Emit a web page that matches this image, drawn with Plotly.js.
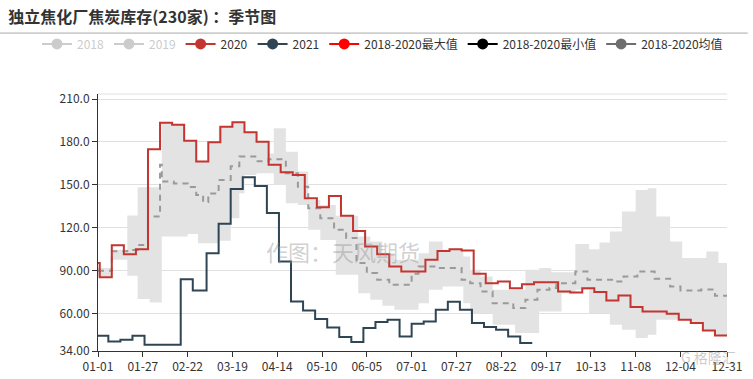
<!DOCTYPE html>
<html>
<head>
<meta charset="utf-8">
<script src="https://cdn.plot.ly/plotly-3.0.1.min.js"></script>
<style>
html,body{margin:0;padding:0;background:#fff;}
#chart{width:753px;height:379px;}
</style>
</head>
<body>
<div id="chart"></div>
<script>
// ---- data (MM-DD on a 2020 calendar axis) ----
const xTickDates = ['01-01','01-27','02-22','03-19','04-14','05-10','06-05','07-01','07-27','08-22','09-17','10-13','11-08','12-04','12-31'];
const yTickVals = [34, 60, 90, 120, 150, 180, 210];
const yTickText = ['34.00', '60.00', '90.00', '120.0', '150.0', '180.0', '210.0'];

const dates2020 = ['01-01','01-02','01-09','01-16','01-23','01-30','02-06','02-13','02-20','02-27','03-05','03-12','03-19','03-26','04-02','04-09','04-16','04-23','04-30','05-07','05-14','05-21','05-28','06-04','06-11','06-18','06-25','07-02','07-09','07-16','07-23','07-30','08-06','08-13','08-20','08-27','09-03','09-10','09-17','09-24','10-01','10-08','10-15','10-22','10-29','11-05','11-12','11-19','11-26','12-03','12-10','12-17','12-24','12-31'];
const values2020 = [95.4,85.5,107.8,101.6,105.0,174.9,193.5,192.1,180.9,166.3,179.8,190.7,193.7,186.8,180.2,164.0,158.9,157.0,140.7,134.4,142.3,128.4,117.9,107.0,101.6,93.0,89.5,89.5,97.7,103.9,105.1,104.2,88.0,81.4,82.5,77.9,80.6,82.1,82.1,75.6,74.9,77.9,75.2,69.3,72.8,64.7,61.6,61.6,60.0,55.8,53.5,48.3,44.9,44.9];

const dates2021 = ['01-01','01-07','01-14','01-21','01-28','02-04','02-11','02-18','02-25','03-04','03-11','03-18','03-25','04-01','04-08','04-15','04-22','04-29','05-06','05-13','05-20','05-27','06-03','06-10','06-17','06-24','07-01','07-08','07-15','07-22','07-29','08-05','08-12','08-19','08-26','09-02','09-09'];
const values2021 = [44.6,40.7,41.9,44.6,38.4,38.4,38.4,84.2,76.3,102.3,122.8,147.2,155.4,149.3,130.3,96.5,68.6,62.3,56.3,50.4,43.7,40.2,50.0,54.2,55.8,44.2,53.0,54.6,62.8,68.4,62.8,53.5,50.7,48.8,44.2,39.6,39.6];

const bandDates = ['01-01','01-09','01-18','01-24','01-31','02-07','02-13','02-20','02-22','02-27','02-28','03-05','03-11','03-18','03-23','03-26','04-02','04-09','04-12','04-19','04-26','05-02','05-09','05-18','05-31','06-07','06-14','06-21','07-05','07-11','07-19','07-31','08-04','08-10','08-17','08-30','09-05','09-13','09-20','09-26','10-04','10-12','10-18','10-24','10-31','11-08','11-15','11-20','11-28','12-03','12-05','12-10','12-17','12-19','12-24','12-26','12-31'];
const bandMax = [91.9,104.7,128.6,148.4,148.4,193.5,192.1,180.9,180.9,166.3,166.3,179.8,190.7,193.7,193.7,186.8,180.2,172.0,189.6,173.2,159.3,139.5,136.0,128.4,114.0,110.5,102.3,97.7,102.3,110.5,104.7,100.0,90.7,86.0,76.7,76.7,90.7,91.9,89.0,89.0,108.8,105.1,109.7,117.4,131.4,146.5,147.7,127.9,110.5,110.5,98.9,98.9,98.9,103.5,103.5,95.4,95.4];
const bandMin = [86.0,97.7,86.5,70.3,67.9,114.0,114.0,114.0,115.8,115.8,109.3,109.3,111.0,126.8,144.2,157.0,158.2,158.2,150.0,137.2,136.0,118.6,111.6,87.2,74.4,69.8,65.6,62.8,67.4,76.7,79.0,67.4,60.5,60.5,52.3,46.6,46.6,61.6,61.6,74.4,76.7,60.5,60.5,52.3,48.8,43.1,45.3,55.8,55.8,55.8,55.8,53.5,48.3,48.3,44.9,44.9,44.9];

const meanDates = ['01-01','01-09','01-18','01-24','01-30','02-06','02-07','02-14','02-22','02-27','03-02','03-05','03-11','03-18','03-23','04-02','04-09','04-19','04-26','05-02','05-09','05-17','05-24','05-30','06-05','06-11','06-18','07-01','07-05','07-16','07-30','08-04','08-10','08-17','08-29','09-05','09-12','09-19','09-23','10-04','10-11','10-26','11-01','11-09','11-19','11-28','12-04','12-16','12-24','12-31'];
const meanValues = [90.0,103.7,104.5,108.0,128.0,164.0,152.3,151.0,148.5,143.0,138.0,144.0,153.5,163.0,169.8,166.5,168.0,158.2,148.8,133.7,126.8,118.6,113.0,95.4,88.4,83.7,80.2,88.0,93.0,91.9,83.7,81.4,75.6,67.4,64.0,69.8,76.7,78.0,81.4,89.5,83.7,82.5,86.0,89.5,84.5,79.0,76.3,77.0,72.6,72.6];

const legendNames = ['2018','2019','2020','2021','2018-2020最大值','2018-2020最小值','2018-2020均值'];
const legendColors = ['#cccccc','#cccccc','#c23531','#2f4554','#ff0000','#000000','#6e6e6e'];

// ---- build ----
const YEAR = '2020-';
const toX = arr => arr.map(d => YEAR + d);
const FONT = '"Noto Sans CJK SC", "Noto Sans", sans-serif';

const traces = [
  {x: toX(bandDates), y: bandMin, mode: 'lines', line: {width: 0, shape: 'hv', color: '#e3e3e3'}, showlegend: false, hoverinfo: 'skip'},
  {x: toX(bandDates), y: bandMax, mode: 'lines', line: {width: 0, shape: 'hv', color: '#e3e3e3'}, fill: 'tonexty', fillcolor: '#e3e3e3', showlegend: false, hoverinfo: 'skip'},
  {x: toX(meanDates), y: meanValues, mode: 'lines', line: {width: 2, shape: 'hv', color: '#9a9a9a', dash: '6px,5px'}, showlegend: false},
  {x: toX(dates2020), y: values2020, mode: 'lines', line: {width: 2, shape: 'hv', color: '#c23531'}, showlegend: false},
  {x: toX(dates2021), y: values2021, mode: 'lines', line: {width: 2, shape: 'hv', color: '#2f4554'}, showlegend: false}
];
legendNames.forEach((n, i) => {
  const grey = i < 2;
  traces.push({
    x: [null], y: [null], mode: 'lines+markers',
    name: grey ? '<span style="color:#cccccc">' + n + '</span>' : n,
    line: {color: legendColors[i], width: 2},
    marker: {color: legendColors[i], size: 11},
    showlegend: true
  });
});

const layout = {
  width: 753, height: 379,
  margin: {l: 98, r: 26, t: 94, b: 28},
  paper_bgcolor: '#ffffff', plot_bgcolor: '#ffffff',
  font: {family: FONT, size: 12, color: '#333333'},
  hovermode: false,
  title: {
    text: '<b>独立焦化厂焦炭库存(230家) ：季节图</b>',
    font: {family: FONT, size: 16, color: '#333333'},
    xref: 'container', yref: 'container',
    x: 0.011, xanchor: 'left', y: 0.955, yanchor: 'middle'
  },
  legend: {
    orientation: 'h', traceorder: 'normal',
    x: -0.097, xanchor: 'left', y: 1.195, yanchor: 'middle',
    font: {family: FONT, size: 12, color: '#333333'},
    itemwidth: 30, bgcolor: 'rgba(0,0,0,0)'
  },
  xaxis: {
    type: 'date',
    range: [YEAR + '01-01', YEAR + '12-31'],
    tickmode: 'array',
    tickvals: toX(xTickDates),
    ticktext: xTickDates,
    showgrid: false, zeroline: false,
    showline: true, linecolor: '#333333', linewidth: 1,
    ticks: 'outside', ticklen: 5, tickcolor: '#333333',
    tickfont: {family: FONT, size: 12, color: '#333333'},
    fixedrange: true
  },
  yaxis: {
    range: [34, 213.5],
    tickmode: 'array',
    tickvals: yTickVals,
    ticktext: yTickText,
    showgrid: true, gridcolor: '#e0e0e0', gridwidth: 1,
    zeroline: false,
    showline: true, linecolor: '#333333', linewidth: 1,
    ticks: 'outside', ticklen: 5, tickcolor: '#333333',
    tickfont: {family: FONT, size: 12, color: '#333333'},
    fixedrange: true
  },
  shapes: [
    {type: 'line', xref: 'paper', yref: 'paper', x0: -0.156, x1: 1.033, y0: 1.237, y1: 1.237, line: {color: '#aaaaaa', width: 1}},
    {type: 'line', xref: 'paper', yref: 'paper', x0: 0, x1: 1, y0: 1, y1: 1, line: {color: '#e0e0e0', width: 1}}
  ],
  annotations: [
    {text: '作图：天风期货', xref: 'paper', yref: 'paper', x: 0.3895, y: 0.389, xanchor: 'center', yanchor: 'middle', showarrow: false,
     font: {family: FONT, size: 22, color: 'rgba(150,150,150,0.45)'}},
    {text: 'G 格隆汇', xref: 'paper', yref: 'paper', x: 0.971, y: -0.023, xanchor: 'center', yanchor: 'middle', showarrow: false,
     font: {family: FONT, size: 14, color: 'rgba(150,150,150,0.5)'}}
  ]
};

Plotly.newPlot('chart', traces, layout, {displayModeBar: false, staticPlot: true});
</script>
</body>
</html>
